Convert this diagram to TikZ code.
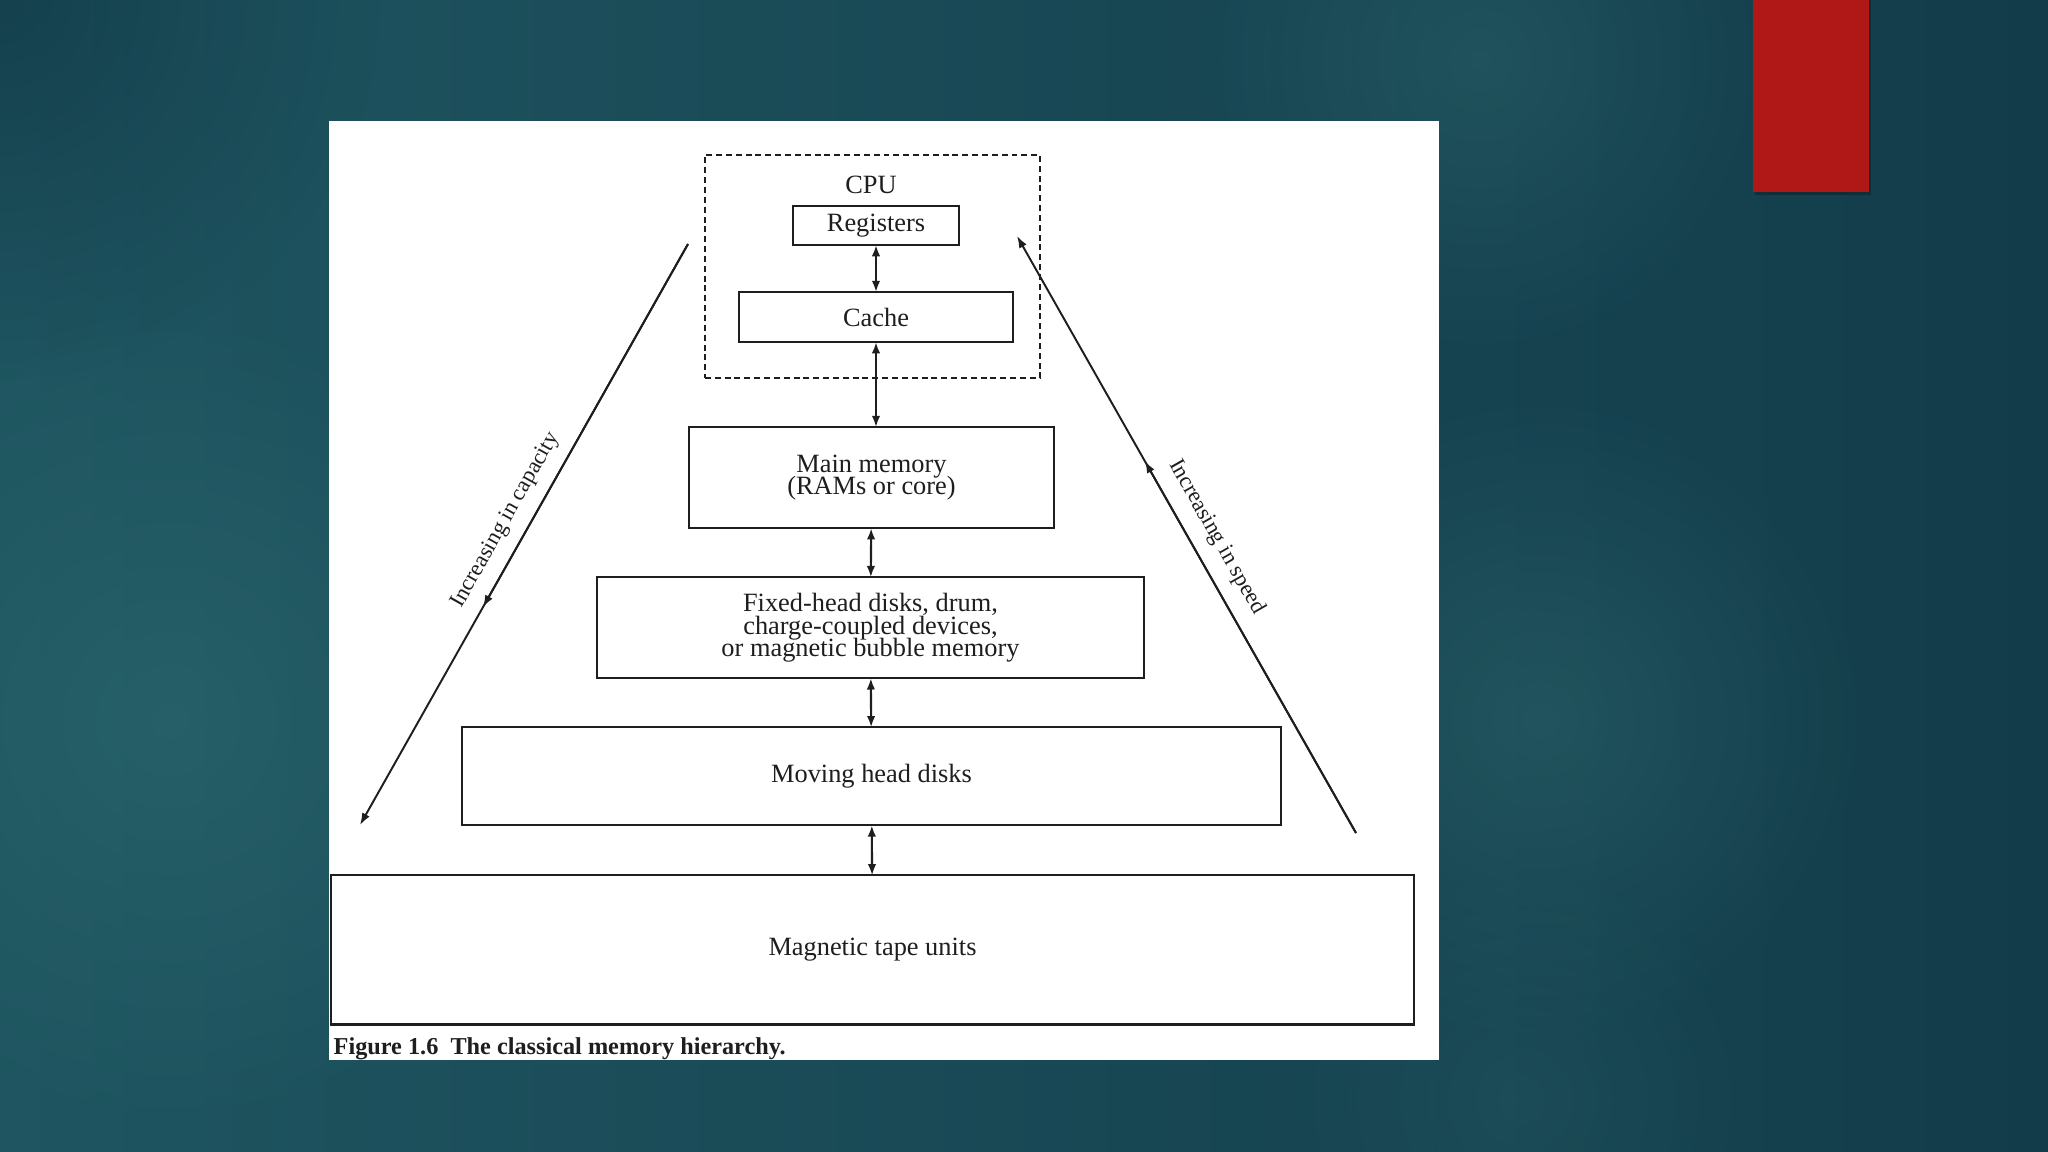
\documentclass[tikz,border=0pt]{standalone}
\usepackage{fontspec}
\setmainfont{Liberation Serif}
\usetikzlibrary{arrows.meta,positioning,calc,fadings}

\definecolor{bgleft}{HTML}{1E5560}
\definecolor{bgmid}{HTML}{1B4C58}
\definecolor{bgright}{HTML}{133C4A}
\definecolor{bgglow}{HTML}{2E6A70}
\definecolor{bgdark}{HTML}{113846}
\definecolor{tabred}{HTML}{B01818}
\definecolor{ink}{HTML}{1E1E1E}

\tikzfading[name=glowfade, inner color=transparent!0, outer color=transparent!100]

\newcommand{\memfont}{\fontsize{7.5}{6.4}\selectfont\lineskiplimit=-10pt}
\newcommand{\slopefont}{\fontsize{6.4}{7}\selectfont}

\begin{document}
\begin{tikzpicture}[
  x=0.01cm, y=-0.01cm,
  node distance=4.9mm,
  box/.style={draw=ink, line width=0.6pt, align=center, font=\memfont,
              text=ink, inner sep=0pt, outer sep=0pt},
  cpubox/.style={draw=ink, line width=0.6pt, dash pattern=on 1.7pt off 1.1pt},
  dbl/.style={{Latex[length=3.2pt,width=2.4pt]}-{Latex[length=3.2pt,width=2.4pt]},
              draw=ink, line width=0.6pt},
  diag/.style={-{Latex[length=3.4pt,width=2.4pt]}, draw=ink, line width=0.55pt},
  slope/.style={font=\slopefont, text=ink, inner sep=1pt},
  caption/.style={font=\bfseries\fontsize{6.9}{8}\selectfont, text=ink, inner sep=0pt}
]
\useasboundingbox (0,0) rectangle (2048,1152);

% slide background
\shade[left color=bgleft, middle color=bgmid, right color=bgright] (0,0) rectangle (2048,1152);
\fill[bgdark, fill opacity=0.7, path fading=glowfade] (0,0) circle (380);
\fill[bgglow, fill opacity=0.55, path fading=glowfade] (170,720) circle (420);
\fill[bgglow, fill opacity=0.45, path fading=glowfade] (1540,720) circle (330);
\fill[bgglow, fill opacity=0.40, path fading=glowfade] (1480,60) circle (300);
\fill[bgglow, fill opacity=0.25, path fading=glowfade] (1520,1100) circle (250);

% red tab
\fill[black, opacity=0.25] (1755,0) rectangle (1871,195);
\fill[tabred] (1753,0) rectangle (1869,192);

% white figure panel
\fill[white] (329,121) rectangle (1439,1060);

% memory levels
\node[cpubox, minimum width=3.35cm, minimum height=2.23cm] (cpu) at (872.5,266.5) {};
\node[box, draw=none] (cpulbl) at (871,185) {CPU};
\node[box, minimum width=1.66cm, minimum height=0.39cm] (reg) at (876,225.5) {Registers};
\node[box, minimum width=2.73cm, minimum height=0.50cm, below=4.7mm of reg] (cache) {Cache};
\node[box, minimum width=3.64cm, minimum height=1.01cm, below=8.5mm of cache, xshift=-0.45mm] (main)
      {Main memory\\(RAMs or core)};
\node[box, minimum width=5.46cm, minimum height=1.01cm, below=of main, xshift=-0.1mm] (fixed)
      {Fixed-head disks, drum,\\charge-coupled devices,\\or magnetic bubble memory};
\node[box, minimum width=8.18cm, minimum height=0.98cm, below=of fixed, xshift=0.1mm] (moving)
      {Moving head disks};
\node[box, minimum width=10.82cm, minimum height=1.49cm, below=5mm of moving, xshift=0.1mm] (tape)
      {Magnetic tape units};

\draw[dbl] (reg) -- (cache);
\draw[dbl] (cache) -- (cache |- main.north);
\draw[dbl] (main) -- (fixed);
\draw[dbl] (fixed) -- (moving);
\draw[dbl] (moving) -- (tape);

% trend arrows
\coordinate (capTop) at (688,244);
\coordinate (capBot) at (360,825);
\coordinate (spdTop) at (1017,236);
\coordinate (spdBot) at (1356,833);

\draw[diag] (capTop) -- (capBot);
\draw[diag] (capTop) -- ($(capTop)!0.625!(capBot)$);
\path (capBot) -- (capTop) node[slope, pos=0.505, sloped, above=2.5pt] {Increasing in capacity};

\draw[diag] (spdBot) -- (spdTop);
\draw[diag] (spdBot) -- ($(spdBot)!0.623!(spdTop)$);
\path (spdTop) -- (spdBot) node[slope, pos=0.525, sloped, above=3pt] {Increasing in speed};

\node[caption, anchor=base west] (cap) at (333,1054)
      {Figure 1.6\ \ The classical memory hierarchy.};
\end{tikzpicture}
\end{document}
